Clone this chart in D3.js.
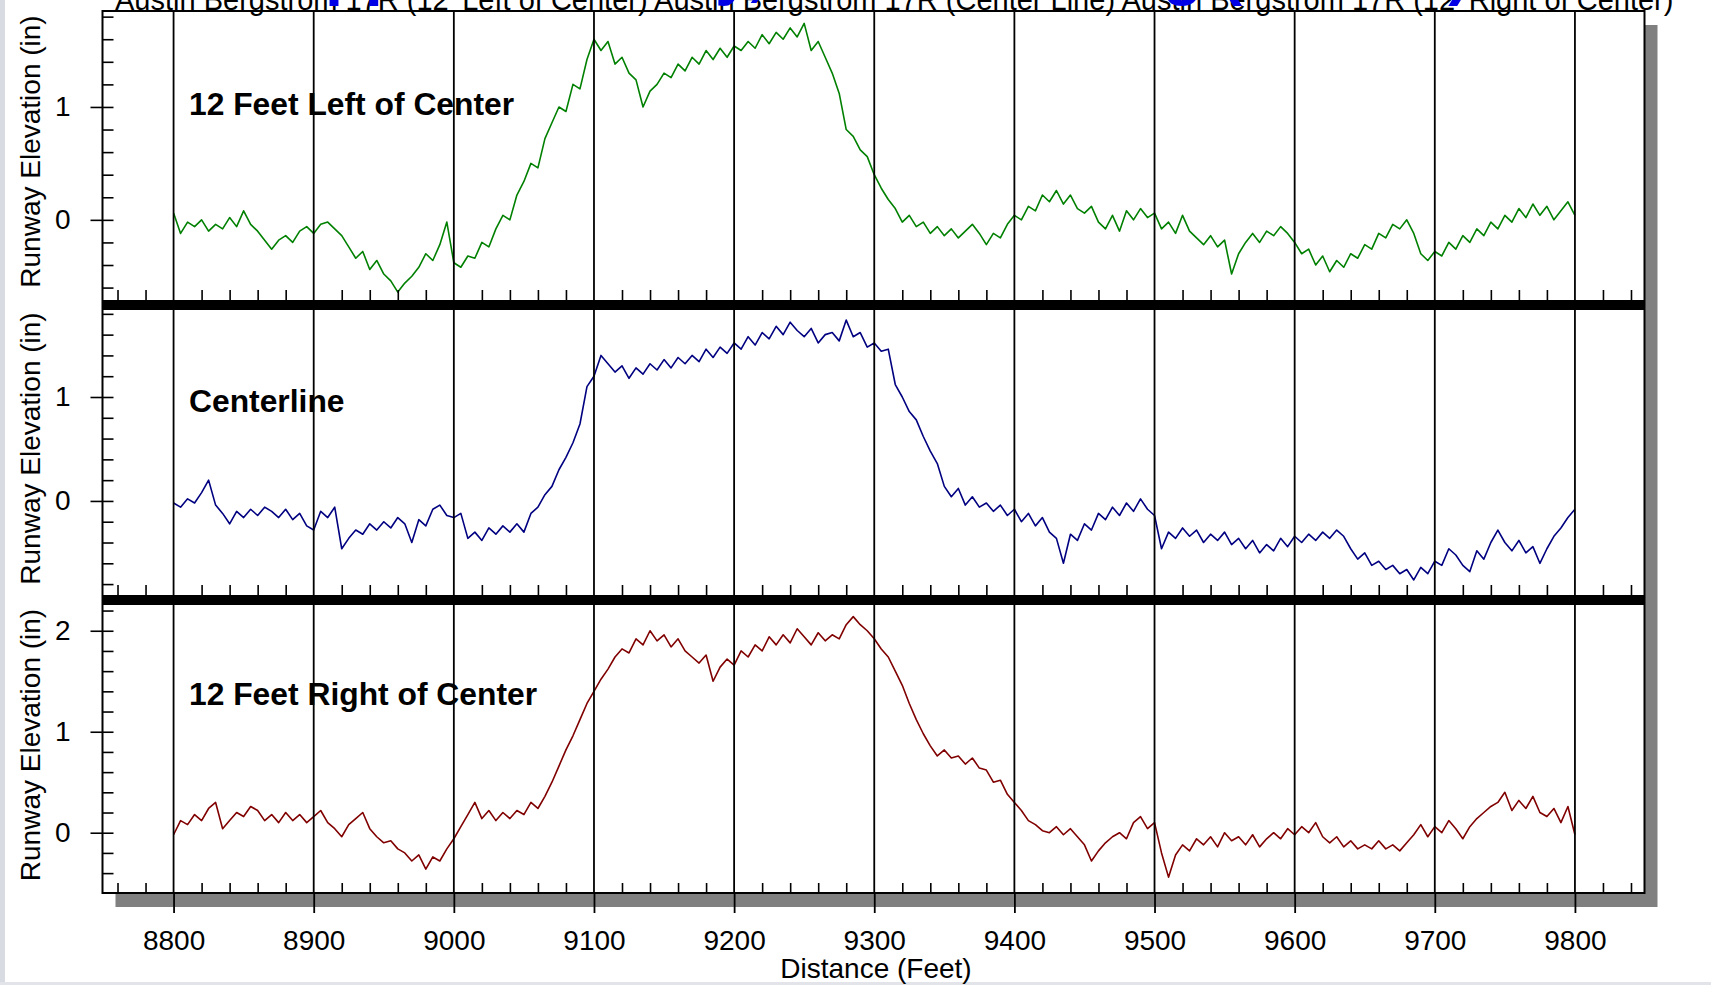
<!DOCTYPE html>
<html>
<head>
<meta charset="utf-8">
<script src="https://cdn.jsdelivr.net/npm/d3@7"></script>
<style>
  body { margin: 0; background: #fff; overflow: hidden; }
  svg { display: block; font-family: "Liberation Sans", Arial, sans-serif; }
</style>
</head>
<body>
<div id="vis"></div>
<script>
// Profile samples, one every 5 ft starting at 8800 ft (elevation in inches)
const distStart = 8800;
const distStep = 5;

const leftElev = [
  0.06, -0.12, -0.02, -0.06, 0.0, -0.1, -0.04, -0.08, 0.02, -0.06,
  0.08, -0.04, -0.1, -0.18, -0.26, -0.18, -0.14, -0.2, -0.1, -0.06,
  -0.12, -0.04, -0.02, -0.08, -0.14, -0.24, -0.34, -0.28, -0.44, -0.36,
  -0.48, -0.54, -0.64, -0.56, -0.5, -0.42, -0.3, -0.36, -0.22, -0.02,
  -0.38, -0.42, -0.32, -0.34, -0.2, -0.24, -0.08, 0.04, 0.0, 0.22,
  0.34, 0.5, 0.46, 0.72, 0.86, 1.0, 0.96, 1.2, 1.16, 1.42,
  1.6, 1.5, 1.58, 1.38, 1.44, 1.3, 1.24, 1.0, 1.14, 1.2,
  1.3, 1.26, 1.38, 1.32, 1.44, 1.38, 1.5, 1.42, 1.52, 1.44,
  1.54, 1.5, 1.58, 1.52, 1.64, 1.56, 1.66, 1.6, 1.7, 1.62,
  1.74, 1.5, 1.58, 1.44, 1.3, 1.12, 0.8, 0.74, 0.62, 0.56,
  0.4, 0.28, 0.18, 0.1, -0.02, 0.04, -0.06, -0.02, -0.12, -0.06,
  -0.14, -0.08, -0.16, -0.1, -0.04, -0.12, -0.22, -0.12, -0.16, -0.04,
  0.04, 0.0, 0.12, 0.08, 0.22, 0.16, 0.26, 0.14, 0.22, 0.1,
  0.06, 0.12, -0.02, -0.08, 0.04, -0.1, 0.08, 0.0, 0.1, 0.02,
  0.06, -0.08, -0.02, -0.12, 0.04, -0.1, -0.16, -0.22, -0.14, -0.24,
  -0.18, -0.48, -0.3, -0.2, -0.12, -0.2, -0.1, -0.14, -0.06, -0.12,
  -0.2, -0.3, -0.26, -0.4, -0.32, -0.46, -0.36, -0.42, -0.3, -0.34,
  -0.22, -0.26, -0.12, -0.16, -0.04, -0.08, 0.0, -0.12, -0.3, -0.36,
  -0.28, -0.32, -0.2, -0.26, -0.14, -0.2, -0.08, -0.14, -0.02, -0.08,
  0.04, -0.02, 0.1, 0.02, 0.14, 0.04, 0.12, 0.0, 0.08, 0.16,
  0.04
];

const centerElev = [
  -0.02, -0.06, 0.02, -0.02, 0.08, 0.2, -0.04, -0.12, -0.22, -0.1,
  -0.16, -0.08, -0.14, -0.06, -0.1, -0.16, -0.08, -0.18, -0.12, -0.24,
  -0.28, -0.1, -0.16, -0.06, -0.46, -0.36, -0.28, -0.32, -0.22, -0.28,
  -0.2, -0.26, -0.16, -0.22, -0.4, -0.18, -0.24, -0.08, -0.04, -0.14,
  -0.16, -0.12, -0.36, -0.3, -0.38, -0.26, -0.32, -0.24, -0.3, -0.22,
  -0.3, -0.12, -0.06, 0.06, 0.14, 0.3, 0.42, 0.56, 0.74, 1.1,
  1.2, 1.4, 1.32, 1.24, 1.3, 1.18, 1.28, 1.22, 1.32, 1.26,
  1.36, 1.28, 1.38, 1.32, 1.4, 1.34, 1.46, 1.38, 1.48, 1.42,
  1.52, 1.46, 1.58, 1.5, 1.62, 1.56, 1.68, 1.6, 1.72, 1.64,
  1.58, 1.66, 1.52, 1.6, 1.62, 1.54, 1.74, 1.58, 1.62, 1.48,
  1.52, 1.44, 1.46, 1.12, 1.0, 0.86, 0.78, 0.62, 0.48, 0.36,
  0.14, 0.04, 0.12, -0.04, 0.04, -0.06, -0.02, -0.1, -0.04, -0.14,
  -0.08, -0.2, -0.12, -0.24, -0.16, -0.3, -0.36, -0.6, -0.32, -0.38,
  -0.22, -0.28, -0.12, -0.18, -0.06, -0.14, -0.02, -0.1, 0.02, -0.08,
  -0.14, -0.46, -0.3, -0.36, -0.26, -0.34, -0.28, -0.4, -0.32, -0.38,
  -0.3, -0.42, -0.36, -0.46, -0.38, -0.5, -0.42, -0.48, -0.36, -0.44,
  -0.34, -0.4, -0.32, -0.38, -0.3, -0.36, -0.28, -0.34, -0.46, -0.56,
  -0.5, -0.62, -0.58, -0.66, -0.62, -0.7, -0.66, -0.76, -0.64, -0.7,
  -0.58, -0.62, -0.46, -0.52, -0.62, -0.68, -0.48, -0.56, -0.4, -0.28,
  -0.4, -0.48, -0.38, -0.5, -0.44, -0.6, -0.46, -0.34, -0.26, -0.16,
  -0.08
];

const rightElev = [
  -0.02, 0.12, 0.08, 0.18, 0.12, 0.24, 0.3, 0.04, 0.12, 0.2,
  0.16, 0.26, 0.22, 0.12, 0.18, 0.1, 0.2, 0.12, 0.18, 0.1,
  0.16, 0.22, 0.1, 0.04, -0.04, 0.08, 0.14, 0.2, 0.04, -0.04,
  -0.1, -0.08, -0.16, -0.2, -0.28, -0.22, -0.36, -0.24, -0.28, -0.16,
  -0.06, 0.06, 0.18, 0.3, 0.14, 0.22, 0.12, 0.2, 0.14, 0.22,
  0.18, 0.3, 0.24, 0.36, 0.5, 0.66, 0.82, 0.96, 1.12, 1.28,
  1.4, 1.52, 1.62, 1.74, 1.82, 1.78, 1.92, 1.86, 2.0, 1.9,
  1.96, 1.84, 1.92, 1.8, 1.74, 1.68, 1.76, 1.5, 1.64, 1.72,
  1.66, 1.8, 1.74, 1.86, 1.8, 1.94, 1.86, 1.96, 1.88, 2.02,
  1.94, 1.86, 1.98, 1.9, 1.96, 1.92, 2.06, 2.14, 2.06, 2.0,
  1.92, 1.82, 1.74, 1.6, 1.46, 1.28, 1.12, 0.98, 0.86, 0.76,
  0.82, 0.74, 0.76, 0.68, 0.74, 0.64, 0.62, 0.5, 0.52, 0.38,
  0.3, 0.22, 0.12, 0.08, 0.02, 0.0, 0.06, -0.02, 0.04, -0.04,
  -0.12, -0.28, -0.18, -0.1, -0.04, 0.0, -0.06, 0.1, 0.16, 0.04,
  0.1, -0.2, -0.44, -0.22, -0.12, -0.18, -0.06, -0.12, -0.04, -0.14,
  0.0, -0.08, -0.04, -0.12, -0.02, -0.14, -0.06, 0.0, -0.06, 0.04,
  -0.02, 0.06, 0.0, 0.1, -0.04, -0.1, -0.04, -0.14, -0.08, -0.16,
  -0.12, -0.16, -0.08, -0.16, -0.12, -0.18, -0.1, -0.02, 0.08, -0.04,
  0.06, 0.0, 0.12, 0.04, -0.06, 0.06, 0.14, 0.2, 0.26, 0.3,
  0.4, 0.22, 0.32, 0.24, 0.36, 0.2, 0.16, 0.24, 0.1, 0.26,
  -0.02
];

const xTickValues = [8800, 8900, 9000, 9100, 9200, 9300, 9400, 9500, 9600, 9700, 9800];
const panelLabels = ["12 Feet Left of Center", "Centerline", "12 Feet Right of Center"];
const yTitle = "Runway Elevation (in)";
const xTitle = "Distance (Feet)";
const slideTitle = "Applied Survey, Austin Rating (Before)";
const chartSubtitle = "Austin Bergstrom 17R (12' Left of Center) Austin Bergstrom 17R (Center Line) Austin Bergstrom 17R (12' Right of Center)";

// Layout
const width = 1711, height = 985;
const frame = { left: 102.5, right: 1644.5, top: 11, bottom: 893 };

const svg = d3.select("#vis").append("svg")
  .attr("width", width)
  .attr("height", height);

// slide edges
svg.append("rect").attr("x", 0).attr("y", 0).attr("width", 5).attr("height", height).attr("fill", "#d9dbe3");
svg.append("rect").attr("x", 0).attr("y", 982).attr("width", width).attr("height", 3).attr("fill", "#e3e4ea");

// drop shadow + frame
svg.append("rect")
  .attr("x", frame.left + 13).attr("y", frame.top + 14)
  .attr("width", frame.right - frame.left).attr("height", frame.bottom - frame.top)
  .attr("fill", "#808080");
svg.append("rect")
  .attr("x", frame.left).attr("y", frame.top)
  .attr("width", frame.right - frame.left).attr("height", frame.bottom - frame.top)
  .attr("fill", "#fff");

// X scale shared by all three panels
const x = d3.scaleLinear().domain([8750, 9850]).range([103.5, 1645]);

const panels = [
  { label: panelLabels[0], values: leftElev,   color: "#008000", top: 11,  bottom: 300, domain: [-0.71, 1.85],   majors: [0, 1],    labelY: 115 },
  { label: panelLabels[1], values: centerElev, color: "#000080", top: 310, bottom: 595, domain: [-0.905, 1.837], majors: [0, 1],    labelY: 412 },
  { label: panelLabels[2], values: rightElev,  color: "#800000", top: 605, bottom: 893, domain: [-0.597, 2.255], majors: [0, 1, 2], labelY: 705 }
];

const minorX = d3.range(8760, 9850, 20).filter(v => v % 100 !== 0);

panels.forEach((p) => {
  const y = d3.scaleLinear().domain(p.domain).range([p.bottom, p.top]);
  const g = svg.append("g");

  // profile line
  const line = d3.line()
    .x((d, i) => x(distStart + i * distStep))
    .y(d => y(d));
  g.append("path")
    .datum(p.values)
    .attr("fill", "none")
    .attr("stroke", p.color)
    .attr("stroke-width", 1.6)
    .attr("stroke-linejoin", "round")
    .attr("d", line);

  // minor y ticks (inside)
  const minorY = d3.range(Math.ceil(p.domain[0] / 0.2) * 0.2, p.domain[1], 0.2)
    .map(v => +v.toFixed(2));
  g.append("g")
    .attr("transform", `translate(${frame.left},0)`)
    .call(d3.axisRight(y).tickValues(minorY).tickSize(11).tickFormat(""))
    .call(a => a.select(".domain").remove())
    .call(a => a.selectAll("line").attr("stroke-width", 1.6));

  // major y ticks, crossing the frame, with labels
  g.append("g")
    .attr("transform", `translate(${frame.left},0)`)
    .call(d3.axisLeft(y).tickValues(p.majors).tickSize(12).tickPadding(20).tickFormat(d3.format("d")))
    .call(a => a.select(".domain").remove())
    .call(a => a.selectAll("line").attr("stroke-width", 1.6))
    .call(a => a.selectAll("text").attr("font-size", 28).attr("fill", "#000"));

  // minor x ticks at the bottom of each panel
  g.append("g")
    .attr("transform", `translate(0,${p.bottom})`)
    .call(d3.axisBottom(x).tickValues(minorX).tickSize(-10).tickFormat(""))
    .call(a => a.select(".domain").remove())
    .call(a => a.selectAll("line").attr("stroke-width", 1.6));

  // panel label
  g.append("text")
    .attr("x", 189)
    .attr("y", p.labelY)
    .attr("font-size", 31.8)
    .attr("font-weight", "bold")
    .text(p.label);

  // y axis title
  g.append("text")
    .attr("transform", `translate(40,${(p.top + p.bottom) / 2 - 4}) rotate(-90)`)
    .attr("text-anchor", "middle")
    .attr("font-size", 28)
    .text(yTitle);
});

// vertical grid lines at each 100 ft, through every panel
svg.append("g")
  .selectAll("line")
  .data(xTickValues)
  .join("line")
  .attr("x1", d => x(d)).attr("x2", d => x(d))
  .attr("y1", frame.top).attr("y2", frame.bottom)
  .attr("stroke", "#000")
  .attr("stroke-width", 1.8);

// thick separators between panels
[300, 595].forEach(yy => {
  svg.append("rect")
    .attr("x", frame.left).attr("y", yy)
    .attr("width", frame.right - frame.left).attr("height", 10)
    .attr("fill", "#000");
});

// frame outline
svg.append("rect")
  .attr("x", frame.left).attr("y", frame.top)
  .attr("width", frame.right - frame.left).attr("height", frame.bottom - frame.top)
  .attr("fill", "none")
  .attr("stroke", "#000")
  .attr("stroke-width", 2);

// x axis (outward ticks + labels)
svg.append("g")
  .attr("transform", `translate(0,${frame.bottom})`)
  .call(d3.axisBottom(x).tickValues(xTickValues).tickSize(20).tickPadding(17).tickFormat(d3.format("d")))
  .call(a => a.select(".domain").remove())
  .call(a => a.selectAll("line").attr("stroke-width", 1.8))
  .call(a => a.selectAll("text").attr("font-size", 28).attr("fill", "#000"));

svg.append("text")
  .attr("x", 876)
  .attr("y", 978)
  .attr("text-anchor", "middle")
  .attr("font-size", 28)
  .text(xTitle);

// clipped titles at the top of the slide
svg.append("text")
  .attr("x", 115)
  .attr("y", 10)
  .attr("font-size", 29)
  .text(chartSubtitle);

svg.append("text")
  .attr("x", 278)
  .attr("y", -7)
  .attr("font-size", 65)
  .attr("font-weight", "bold")
  .attr("fill", "#0000e6")
  .text(slideTitle);
</script>
</body>
</html>
